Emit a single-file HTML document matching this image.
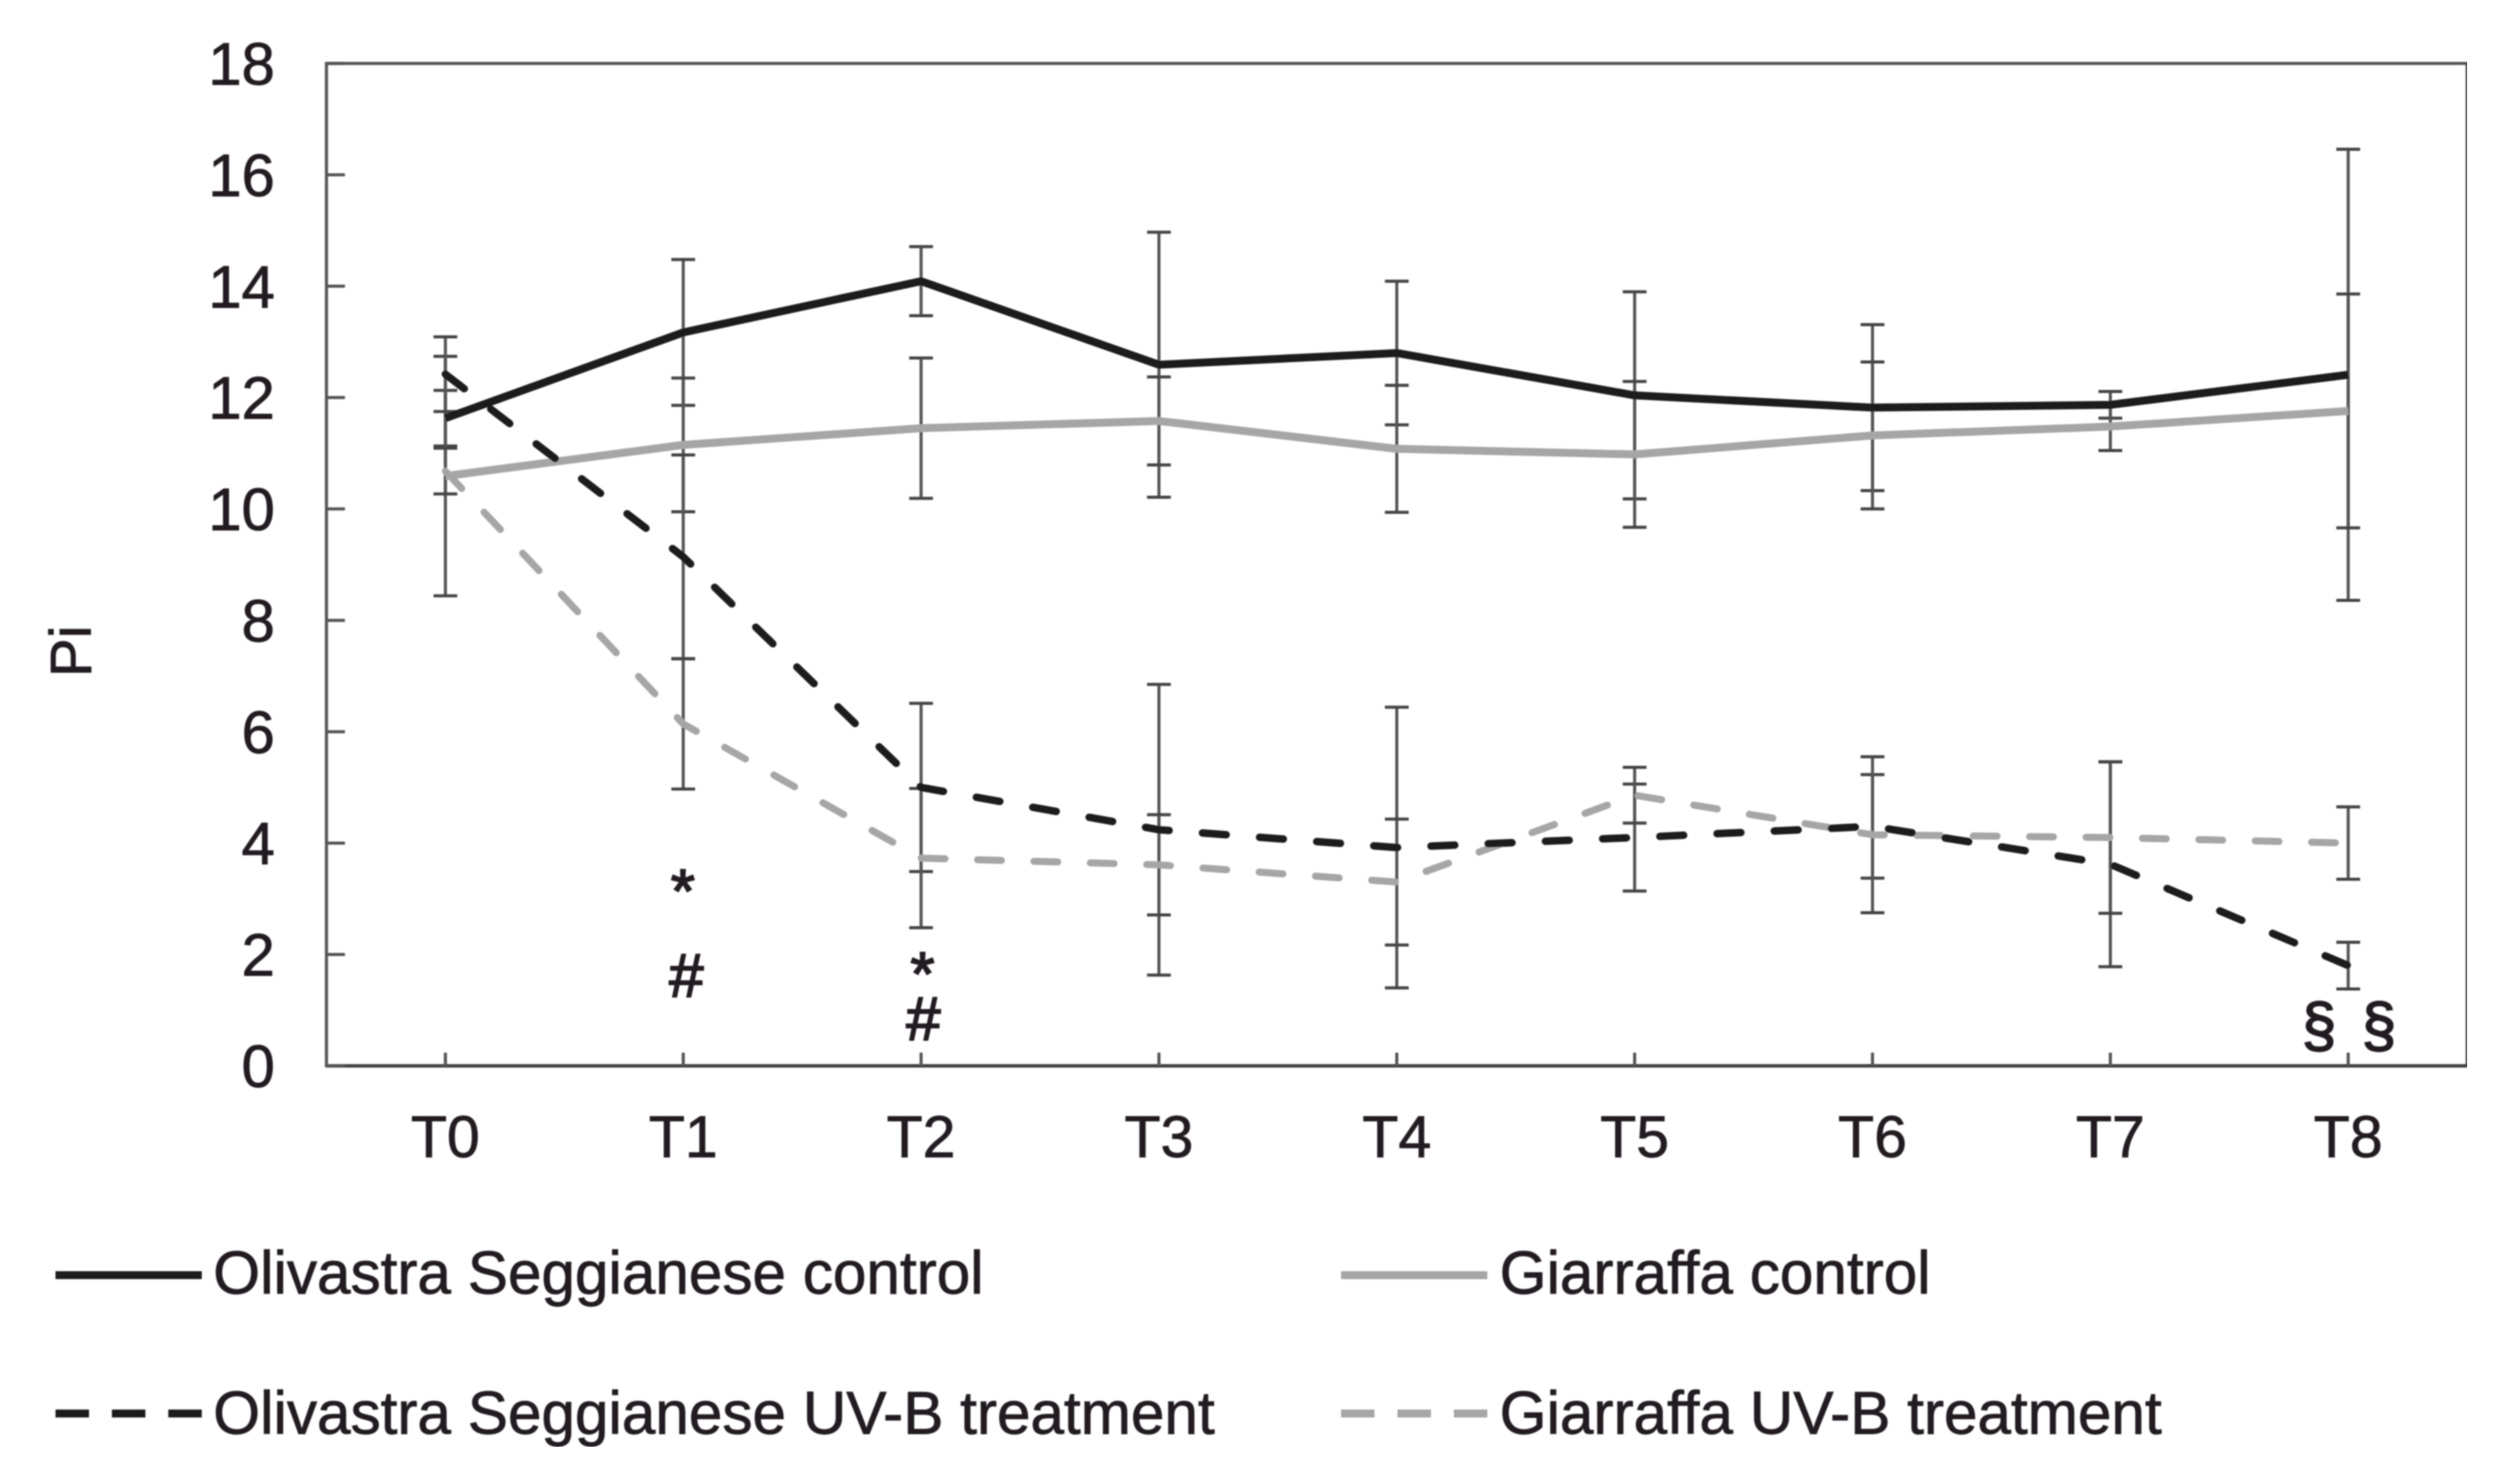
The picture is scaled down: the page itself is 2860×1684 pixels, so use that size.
<!DOCTYPE html>
<html lang="en">
<head>
<meta charset="utf-8">
<title>Pi over time</title>
<style>
html,body{margin:0;padding:0;background:#fff;}
body{width:2860px;height:1684px;overflow:hidden;}
svg{display:block;}
text{font-family:"Liberation Sans",sans-serif;fill:#231f20;stroke:#231f20;stroke-width:0.9px;}
#marks text{stroke-width:2px;}
</style>
</head>
<body>
<svg id="chart" xmlns="http://www.w3.org/2000/svg" width="2860" height="1684" viewBox="0 0 2860 1684">
  <defs>
    <filter id="soft" x="0" y="0" width="100%" height="100%"><feGaussianBlur stdDeviation="0.9"/></filter>
  </defs>
  <rect x="0" y="0" width="2860" height="1684" fill="#fff"/>
  <g filter="url(#soft)">
  <g id="axes"></g>
  <g id="errors"></g>
  <g id="lines"></g>

  <text x="103" y="739" font-size="66" text-anchor="middle" transform="rotate(-90 103 739)">Pi</text>

  <g id="marks" font-size="70" text-anchor="middle">
    <text x="775" y="1035">*</text>
    <text x="779" y="1131">#</text>
    <text x="1047" y="1129">*</text>
    <text x="1048" y="1180">#</text>
    <text x="2632" y="1187">§</text>
    <text x="2700" y="1187">§</text>
  </g>

  <g font-size="68.4">
    <g>
      <line x1="63" x2="229" y1="1447" y2="1447" stroke="#1f1c1d" stroke-width="9"/>
      <text x="242" y="1468">Olivastra Seggianese control</text>
    </g>
    <g>
      <line x1="1522" x2="1688" y1="1447" y2="1447" stroke="#a6a6a6" stroke-width="9"/>
      <text x="1702" y="1468">Giarraffa control</text>
    </g>
    <g>
      <line x1="63" x2="229" y1="1604" y2="1604" stroke="#1f1c1d" stroke-width="9" stroke-dasharray="38 26"/>
      <text x="242" y="1627">Olivastra Seggianese UV-B treatment</text>
    </g>
    <g>
      <line x1="1522" x2="1688" y1="1604" y2="1604" stroke="#a6a6a6" stroke-width="9" stroke-dasharray="38 26"/>
      <text x="1702" y="1627">Giarraffa UV-B treatment</text>
    </g>
  </g>
  </g>
</svg>

<script>
const categories = ["T0","T1","T2","T3","T4","T5","T6","T7","T8"];
const yTickLabels = [0,2,4,6,8,10,12,14,16,18];

const olivastraControl = [11.63,13.17,14.09,12.59,12.80,12.04,11.82,11.87,12.41];
const olivastraControlErr = [0.50,1.31,0.62,2.38,1.29,1.86,1.49,0.24,4.05];

const giarraffaControl = [10.59,11.15,11.45,11.58,11.08,10.98,11.32,11.48,11.76];
const giarraffaControlErr = [2.15,1.20,1.26,0.79,1.14,1.31,1.32,0.43,2.10];

const olivastraUvb = [12.42,9.14,5.00,4.24,3.92,4.10,4.30,3.62,1.80];
const olivastraUvbErr = [0.67,1.83,1.51,2.61,2.52,0.96,0.93,1.84,0.42];

const giarraffaUvb = [10.68,6.14,3.73,3.61,3.30,4.86,4.15,4.10,4.00];
const giarraffaUvbErr = [0.41,1.17,1.25,0.90,1.13,0.50,1.40,1.36,0.65];

const NS = "http://www.w3.org/2000/svg";
const plot = {left:370.5, right:2800, top:72, bottom:1209.5};
const yMax = 18;

function xScale(i){
  const band = (plot.right - plot.left) / categories.length;
  return plot.left + band * (i + 0.5);
}
function yScale(v){
  return plot.bottom - (plot.bottom - plot.top) * v / yMax;
}
function mk(tag, attrs, parent){
  const el = document.createElementNS(NS, tag);
  for (const k in attrs) el.setAttribute(k, attrs[k]);
  parent.appendChild(el);
  return el;
}

const axes = document.getElementById("axes");
const frame = mk("rect", {x:plot.left, y:plot.top, width:plot.right-plot.left, height:plot.bottom-plot.top, fill:"none", stroke:"#555", "stroke-width":3.5}, axes);


const xBase = mk("line", {x1:plot.left, x2:plot.right, y1:plot.bottom, y2:plot.bottom, stroke:"#444", "stroke-width":4}, axes);



yTickLabels.forEach(function(v){
  const t = mk("line", {x1:plot.left, x2:plot.left+21, y1:yScale(v), y2:yScale(v), stroke:"#555", "stroke-width":3.5}, axes);
  
  
  const l = mk("text", {x:312, y:yScale(v)+24, "font-size":68, "text-anchor":"end"}, axes);
  
  
  l.textContent = v;
});

categories.forEach(function(c, i){
  const t = mk("line", {x1:xScale(i), x2:xScale(i), y1:plot.bottom, y2:plot.bottom-15, stroke:"#555", "stroke-width":3.5}, axes);
  
  
  const l = mk("text", {x:xScale(i), y:1313, "font-size":67, "text-anchor":"middle"}, axes);
  
  
  l.textContent = c;
});

const errGroup = document.getElementById("errors");
function drawErrors(values, errs){
  values.forEach(function(v, i){
    const x = xScale(i), hi = yScale(v + errs[i]), lo = yScale(v - errs[i]);
    const stem = mk("line", {x1:x, x2:x, y1:hi, y2:lo, stroke:"#555", "stroke-width":3.5}, errGroup);
    
    
    const capHi = mk("line", {x1:x-13.5, x2:x+13.5, y1:hi, y2:hi, stroke:"#444", "stroke-width":3.5}, errGroup);
    
    
    const capLo = mk("line", {x1:x-13.5, x2:x+13.5, y1:lo, y2:lo, stroke:"#444", "stroke-width":3.5}, errGroup);
    
    
  });
}
drawErrors(olivastraControl, olivastraControlErr);
drawErrors(giarraffaControl, giarraffaControlErr);
drawErrors(olivastraUvb, olivastraUvbErr);
drawErrors(giarraffaUvb, giarraffaUvbErr);

const lineGroup = document.getElementById("lines");
function pointsOf(values){
  return values.map(function(v, i){ return xScale(i).toFixed(2) + "," + yScale(v).toFixed(2); }).join(" ");
}
const lineGiarraffaUvb = mk("polyline", {points:pointsOf(giarraffaUvb), fill:"none", stroke:"#a6a6a6", "stroke-width":8, "stroke-linecap":"round", "stroke-linejoin":"round", "stroke-dasharray":"27 37"}, lineGroup);


const lineGiarraffaControl = mk("polyline", {points:pointsOf(giarraffaControl), fill:"none", stroke:"#a6a6a6", "stroke-width":9, "stroke-linejoin":"round"}, lineGroup);


const lineOlivastraUvb = mk("polyline", {points:pointsOf(olivastraUvb), fill:"none", stroke:"#1f1c1d", "stroke-width":8.5, "stroke-linecap":"round", "stroke-linejoin":"round", "stroke-dasharray":"27 38"}, lineGroup);


const lineOlivastraControl = mk("polyline", {points:pointsOf(olivastraControl), fill:"none", stroke:"#1f1c1d", "stroke-width":9, "stroke-linejoin":"round"}, lineGroup);


</script>
</body>
</html>
